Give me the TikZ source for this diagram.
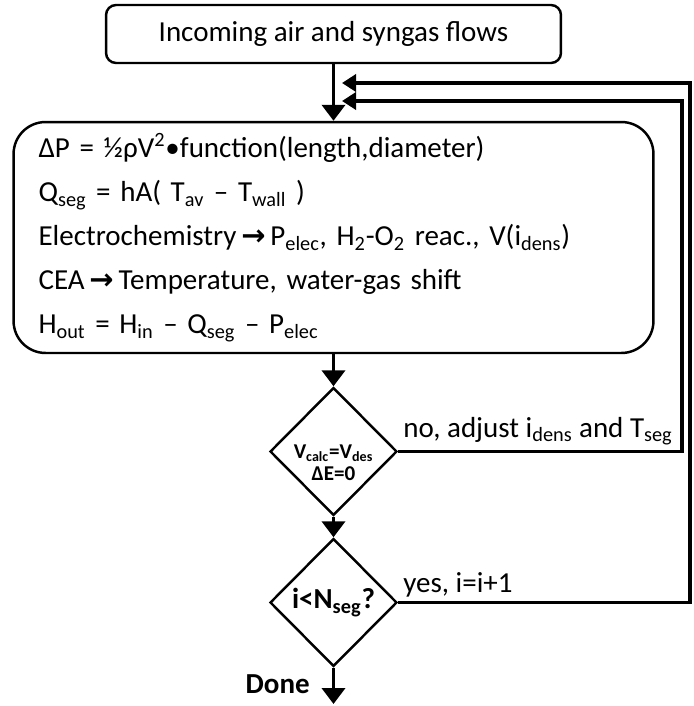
\documentclass[tikz,border=0pt]{standalone}
\usepackage{fontspec}
\setmainfont{Carlito}
\newfontfamily\arrowfont{DejaVu Sans}
\usetikzlibrary{shapes.geometric,arrows.meta}

\begin{document}
\begin{tikzpicture}[
    x=0.02cm, y=-0.02cm,
    txt/.style={font=\fontsize{16.5}{23.3}\selectfont},
    startbox/.style={draw=black, line width=1.4pt, rounded corners=0.2cm, minimum width=9.1cm, minimum height=1.16cm, txt},
    calcbox/.style={draw=black, line width=1.4pt, rounded corners=0.64cm, minimum width=12.8cm, minimum height=4.62cm, text width=11.8cm, inner xsep=0.5cm, align=left, font=\fontsize{16.5}{25.1}\selectfont},
    check/.style={diamond, draw=black, line width=1.4pt, inner sep=0pt, minimum width=2.54cm, minimum height=2.56cm, align=center},
    checktxt/.style={inner sep=0pt, align=center, font=\bfseries\fontsize{12}{12.6}\selectfont},
    lbl/.style={inner sep=0pt, txt},
    flow/.style={line width=2.2pt, -{Triangle[width=0.46cm,length=0.32cm]}},
    back/.style={line width=2.2pt, line join=miter, -{Triangle[width=0.34cm,length=0.28cm]}}
]
    \useasboundingbox (0,0) rectangle (693,706);

    % --- 1. BOXES ---
    \node[startbox] (start) at (333.5,34) {Incoming air and syngas flows};
    \node[calcbox] (calc) at (333.5,237.5) {%
        ΔP = ½ρV\textsuperscript{2}•function(length,diameter)\\
        Q\textsubscript{seg} = hA( T\textsubscript{av} – T\textsubscript{wall} )\\
        Electrochemistry\,{\arrowfont\bfseries →}\,P\textsubscript{elec}, H\textsubscript{2}-O\textsubscript{2} reac., V(i\textsubscript{dens})\\
        CEA\,{\arrowfont\bfseries →}\,Temperature, water-gas shift\\
        H\textsubscript{out} = H\textsubscript{in} – Q\textsubscript{seg} – P\textsubscript{elec}};

    % --- 2. CHECKS ---
    \node[check] (eq) at (333.5,451.5) {};
    \node[checktxt] (eqtxt) at (333.5,463) {V\textsubscript{calc}=V\textsubscript{des}\\ΔE=0};
    \node[check, font=\bfseries\fontsize{16.5}{20}\selectfont] (more) at (333.5,602.5) {i<N\textsubscript{seg}?};

    \coordinate (j1) at (342,83);   \coordinate (yr) at (690,83);
    \coordinate (j2) at (342,101);  \coordinate (nr) at (682,101);
    \coordinate (end) at (333.5,704);

    \node[lbl, anchor=base west] (nolbl) at (403,437) {no, adjust i\textsubscript{dens} and T\textsubscript{seg}};
    \node[lbl, anchor=base west] (yeslbl) at (403,592) {yes, i=i+1};
    \node[lbl, font=\bfseries\fontsize{16.5}{20}\selectfont, anchor=base east] (donelbl) at (310,693) {Done};

    % --- 3. ARROWS ---
    \draw[flow] (start) -- (calc);
    \draw[flow] (calc) -- (eq);
    \draw[flow] (eq) -- (more);
    \draw[flow] (more) -- (end);
    \draw[back] (eq.east) -| (nr) -- (j2);
    \draw[back] (more.east) -| (yr) -- (j1);
\end{tikzpicture}
\end{document}
